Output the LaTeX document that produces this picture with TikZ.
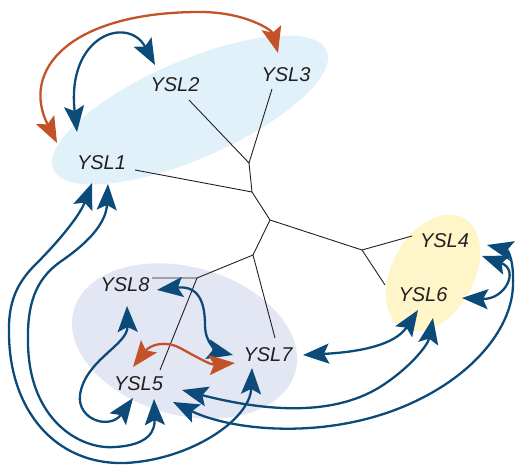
\documentclass[tikz,border=0pt]{standalone}
\usepackage{fontspec}
\setmainfont{Liberation Sans}
\usepackage{tikz}
\usetikzlibrary{arrows.meta,calc}
\definecolor{linkblue}{RGB}{12,74,122}
\definecolor{linkorange}{RGB}{196,82,40}
\definecolor{fillblue}{RGB}{225,241,250}
\definecolor{filllav}{RGB}{227,230,243}
\definecolor{fillyellow}{RGB}{254,246,200}
\definecolor{labelgray}{RGB}{35,31,32}
\tikzset{ysltip/.tip={Stealth[length=26pt,width=20pt,inset=5pt]}}

\begin{document}
\begin{tikzpicture}[x=1pt,y=-1pt,
    gene/.style={font=\fontsize{20}{24}\selectfont\itshape,text=labelgray,inner sep=2pt},
    branch/.style={draw=labelgray,line width=0.9pt},
    link/.style={draw=linkblue,line width=2.3pt,ysltip-ysltip},
    olink/.style={draw=linkorange,line width=2.3pt,ysltip-ysltip}]
    \useasboundingbox (0,0) rectangle (515,465);

    \fill[fillblue, rotate around={23.5:(190,110)}] (190,110) ellipse [x radius=149, y radius=49];
    \fill[filllav, rotate around={-15.6:(184.5,341)}] (184.5,341) ellipse [x radius=115, y radius=74];
    \fill[fillyellow, rotate around={60.7:(433,273)}] (433,273) ellipse [x radius=63, y radius=41];

    \node[gene] (ysl1) at (101.5,163) {YSL1};
    \node[gene] (ysl2) at (175,85) {YSL2};
    \node[gene] (ysl3) at (286,74.5) {YSL3};
    \node[gene] (ysl4) at (444.5,241) {YSL4};
    \node[gene] (ysl5) at (138.5,384) {YSL5};
    \node[gene] (ysl6) at (423,295) {YSL6};
    \node[gene] (ysl7) at (268,355) {YSL7};
    \node[gene] (ysl8) at (125,285) {YSL8};

    \coordinate (na) at (249,163);
    \coordinate (nb) at (252,192);
    \coordinate (nc) at (270,220);
    \coordinate (nd) at (362,250);
    \coordinate (ne) at (253,255);
    \coordinate (nf) at (197,278);

    \draw[branch] ($(ysl2)+(14,15)$) -- (na) -- ($(ysl3)+(-14,14.5)$);
    \draw[branch] (na) -- (nb) -- ($(ysl1)+(33.5,7)$);
    \draw[branch] (nb) -- (nc) -- (nd) -- ($(ysl4)+(-32.5,-5)$);
    \draw[branch] (nd) -- ($(ysl6)+(-38,-10)$);
    \draw[branch] (nc) -- (ne) -- ($(ysl7)+(7,-17)$);
    \draw[branch] (ne) -- (nf) -- ($(ysl8)+(27,-7)$);
    \draw[branch] (nf) -- ($(ysl5)+(21.5,-14)$);

    \draw[olink] ($(ysl1)+(-44.5,-20)$) .. controls (20,70) and (70,12) .. (200,12) .. controls (245,12) and (272,30) .. ($(ysl3)+(-8,-21.5)$);
    \draw[link] ($(ysl1)+(-24.5,-31)$) .. controls (66,35) and (128,15) .. ($(ysl2)+(-20,-20)$);
    \draw[link] ($(ysl1)+(-9.5,20)$) .. controls (80,215) and (60,240) .. (35,265) .. controls (15,285) and (8,305) .. (9,335) .. controls (10,410) and (55,465) .. (125,463) .. controls (190,460) and (250,420) .. ($(ysl7)+(-16,13)$);
    \draw[link] ($(ysl1)+(6.5,21)$) .. controls (106,225) and (85,245) .. (60,262) .. controls (35,280) and (27,305) .. (28,343) .. controls (29,420) and (80,450) .. (115,447) .. controls (150,445) and (155,430) .. ($(ysl5)+(15.5,15)$);
    \draw[link] ($(ysl8)+(2,21)$) .. controls (128,345) and (85,360) .. (80,395) .. controls (77,420) and (110,430) .. ($(ysl5)+(-5.5,14)$);
    \draw[link] ($(ysl8)+(32,5)$) .. controls (200,285) and (205,305) .. (205,325) .. controls (205,345) and (220,352) .. ($(ysl7)+(-35,0)$);
    \draw[olink] ($(ysl5)+(-5.5,-17)$) .. controls (150,345) and (165,340) .. (180,348) .. controls (195,356) and (210,365) .. ($(ysl7)+(-33,8)$);
    \draw[link] ($(ysl7)+(35,0)$) .. controls (360,352) and (395,345) .. ($(ysl6)+(-5,15)$);
    \draw[link] ($(ysl5)+(43.5,6)$) .. controls (260,410) and (330,418) .. (380,387) .. controls (410,368) and (428,345) .. ($(ysl6)+(10,23)$);
    \draw[link] ($(ysl5)+(34.5,18)$) .. controls (230,430) and (320,440) .. (400,408) .. controls (470,380) and (512,330) .. (513,285) .. controls (514,260) and (508,250) .. ($(ysl4)+(42.5,4)$);
    \draw[link] ($(ysl6)+(39,3)$) .. controls (505,300) and (520,270) .. ($(ysl4)+(37.5,15)$);
\end{tikzpicture}
\end{document}
